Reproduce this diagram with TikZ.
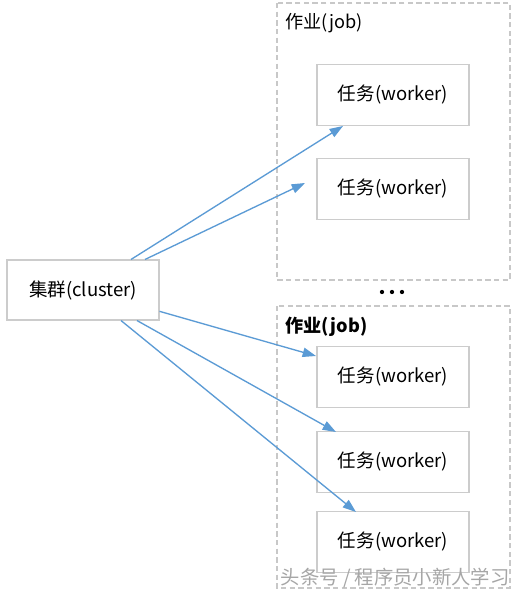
\documentclass[tikz,border=0pt]{standalone}
\usepackage{fontspec}
\setmainfont{Noto Sans CJK SC}
\usetikzlibrary{arrows.meta}
\definecolor{arrowblue}{HTML}{5B9BD5}
\definecolor{boxgray}{HTML}{CCCCCC}
\definecolor{dashgray}{HTML}{C8C8C8}
\begin{document}
\begin{tikzpicture}[x=0.75pt,y=-0.75pt,
  box/.style={draw=boxgray, line width=0.8pt, fill=white, minimum width=114pt, minimum height=45.5pt, inner sep=0pt, font=\fontsize{13.9}{16}\selectfont},
  jobbox/.style={draw=dashgray, dashed, line width=0.8pt, dash pattern=on 4pt off 2.5pt},
  link/.style={draw=arrowblue, line width=1pt, -{Triangle[length=10pt,width=7pt]}}
]
\useasboundingbox (0,0) rectangle (517,594);
\fill[white] (0,0) rectangle (517,594);
% job containers
\draw[jobbox] (277,3) rectangle (510,280);
\draw[jobbox] (277,306) rectangle (510,588);
\node[anchor=west, font=\fontsize{13.6}{16}\selectfont] (job1) at (281,23) {作业(job)};
\node[anchor=west, font=\fontsize{13.6}{16}\selectfont\bfseries] (job2) at (281,327) {作业(job)};
\node (dots) at (392,292) {\tikz{\foreach \i in {0,1,2}{\fill (\i*7.5pt,0) circle (1.6pt);}}};
% nodes
\node[box, minimum width=114pt, minimum height=45pt] (cluster) at (83,290) {集群(cluster)};
\node[box] (w1) at (393,95) {任务(worker)};
\node[box] (w2) at (393,189) {任务(worker)};
\node[box] (w3) at (393,377) {任务(worker)};
\node[box] (w4) at (393,462) {任务(worker)};
\node[box] (w5) at (393,542) {任务(worker)};
% arrows
\coordinate (t1) at (343,126);
\coordinate (t2) at (305,183);
\coordinate (t3) at (316,356);
\coordinate (t4) at (336,432);
\coordinate (t5) at (356,512);
\draw[link] ([xshift=36pt]cluster.north) -- (t1);
\draw[link] ([xshift=46.5pt]cluster.north) -- (t2);
\draw[link] ([yshift=-16pt]cluster.east) -- (t3);
\draw[link] ([xshift=40.5pt]cluster.south) -- (t4);
\draw[link] ([xshift=28.5pt]cluster.south) -- (t5);
% watermark
\node[anchor=west, text=black!35, font=\fontsize{14.5}{16}\selectfont] (wm) at (276,578) {头条号 / 程序员小新人学习};
\end{tikzpicture}
\end{document}
